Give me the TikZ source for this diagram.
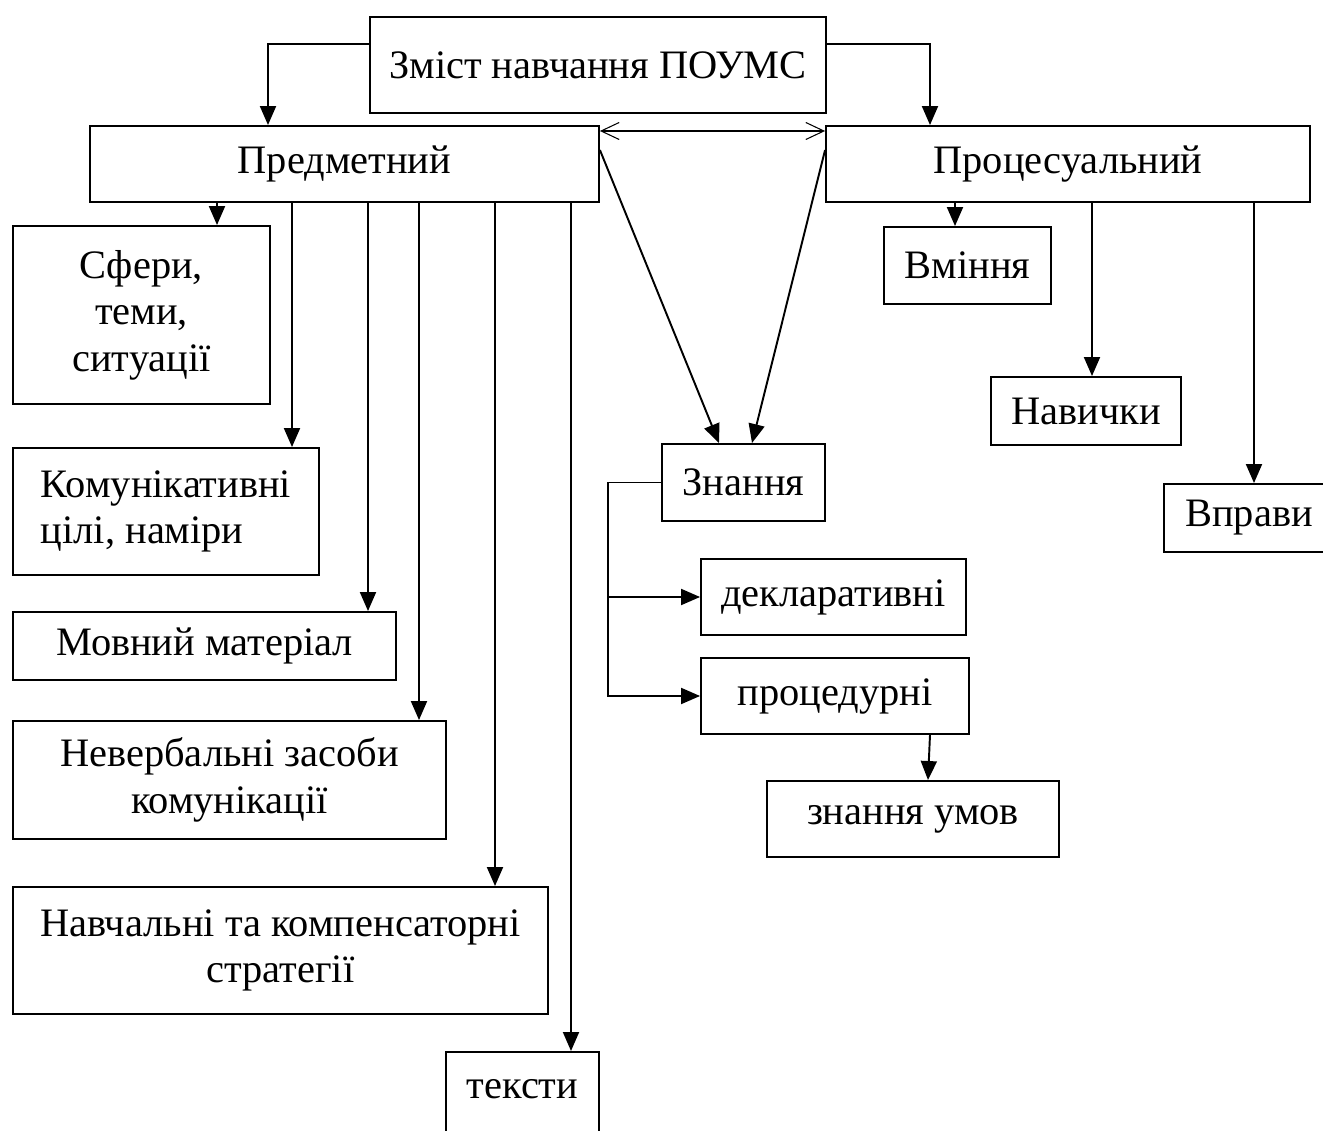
\documentclass[tikz,border=0pt]{standalone}
\usepackage{fontspec}
\setmainfont{Liberation Serif}
\usetikzlibrary{arrows.meta}
\usetikzlibrary{positioning}
\tikzstyle{normalLine}=[line width=1.1pt]
\tikzstyle{thinLine}=[line width=.6pt]
\tikzstyle{Box}=[draw,normalLine,rectangle,inner sep=0pt,align=center]
\tikzstyle{Line}=[normalLine]
\tikzstyle{Arrow}=[normalLine,-{Triangle[length=.38cm,width=.32cm]}]
\tikzstyle{Link}=[thinLine,{Straight Barb[length=.36cm,width=.34cm]}-{Straight Barb[length=.36cm,width=.34cm]}]

\begin{document}
\begin{tikzpicture}[x=0.02cm,y=-0.02cm]

  \useasboundingbox (0,0) rectangle (1323,1131);

  \fontsize{23}{26.5}\selectfont

  % Top
  \node[Box,minimum width=9.12cm,minimum height=1.92cm] (Zmist) at (598,65) {Зміст навчання ПОУМС};
  \node[Box,minimum width=10.18cm,minimum height=1.52cm] (Predm) at (344.5,164) {Предметний};
  \node[Box,minimum width=9.68cm,minimum height=1.52cm] (Proc) at (1068,164) {Процесуальний};

  % Predmetnyi
  \node[Box,minimum width=5.14cm,minimum height=3.56cm] (Sfery) at (141.5,315) {Сфери,\\теми,\\ситуації};
  \node[Box,minimum width=6.12cm,minimum height=2.54cm,align=left] (Komun) at (166,511.5) {Комунікативні\\цілі, наміри};
  \node[Box,minimum width=7.66cm,minimum height=1.36cm] (Movny) at (204.5,646) {Мовний матеріал};
  \node[Box,minimum width=8.66cm,minimum height=2.36cm] (Neverb) at (229.5,780) {Невербальні засоби\\комунікації};
  \node[Box,minimum width=10.70cm,minimum height=2.54cm] (Navch) at (280.5,950.5) {Навчальні та компенсаторні\\стратегії};
  \node[Box,minimum width=3.06cm,text height=.94cm,text depth=1.4cm,anchor=north] (Teksty) at (522.5,1051) {тексти};

  % Znannia
  \node[Box,minimum width=3.26cm,minimum height=1.54cm] (Znannia) at (743.5,482.5) {Знання};
  \node[Box,minimum width=5.30cm,minimum height=1.52cm] (Dekl) at (833.5,597) {декларативні};
  \node[Box,minimum width=5.36cm,minimum height=1.52cm] (Proced) at (835,696) {процедурні};
  \node[Box,minimum width=5.84cm,minimum height=1.52cm] (Umov) at (913,819) {знання умов};

  % Protsesualnyi
  \node[Box,minimum width=3.34cm,minimum height=1.54cm] (Vminnia) at (967.5,265.5) {Вміння};
  \node[Box,minimum width=3.80cm,minimum height=1.36cm] (Navychky) at (1086,411) {Навички};
  \node[Box,minimum width=3.40cm,minimum height=1.36cm] (Vpravy) at (1249,518) {Вправи};

  % Arrows
  \draw[Arrow] (Zmist.west |- 0,44) -| (Predm.north -| 268,0);
  \draw[Arrow] (Zmist.east |- 0,44) -| (Proc.north -| 930,0);
  \draw[Link] (Predm.east |- 0,131) -- (Proc.west |- 0,131);
  \draw[Arrow] (Predm.east |- 0,150) -- (Znannia.north -| 719,0);
  \draw[Arrow] (Proc.west |- 0,150) -- (Znannia.north -| 752,0);

  \foreach \x/\target in {217/Sfery,292/Komun,368/Movny,419/Neverb,495/Navch,571/Teksty}
    \draw[Arrow] (Predm.south -| \x,0) -- (\target.north -| \x,0);

  \foreach \x/\target in {955/Vminnia,1092/Navychky,1254/Vpravy}
    \draw[Arrow] (Proc.south -| \x,0) -- (\target.north -| \x,0);

  \coordinate (Trunk) at (608,482.5);
  \draw[Arrow] (Znannia.west) -- (Trunk) |- (Proced.west);
  \draw[Arrow] (Trunk |- Dekl.west) -- (Dekl.west);
  \draw[Arrow] (Proced.south -| 930,0) -- (Umov.north -| 928,0);

\end{tikzpicture}
\end{document}
